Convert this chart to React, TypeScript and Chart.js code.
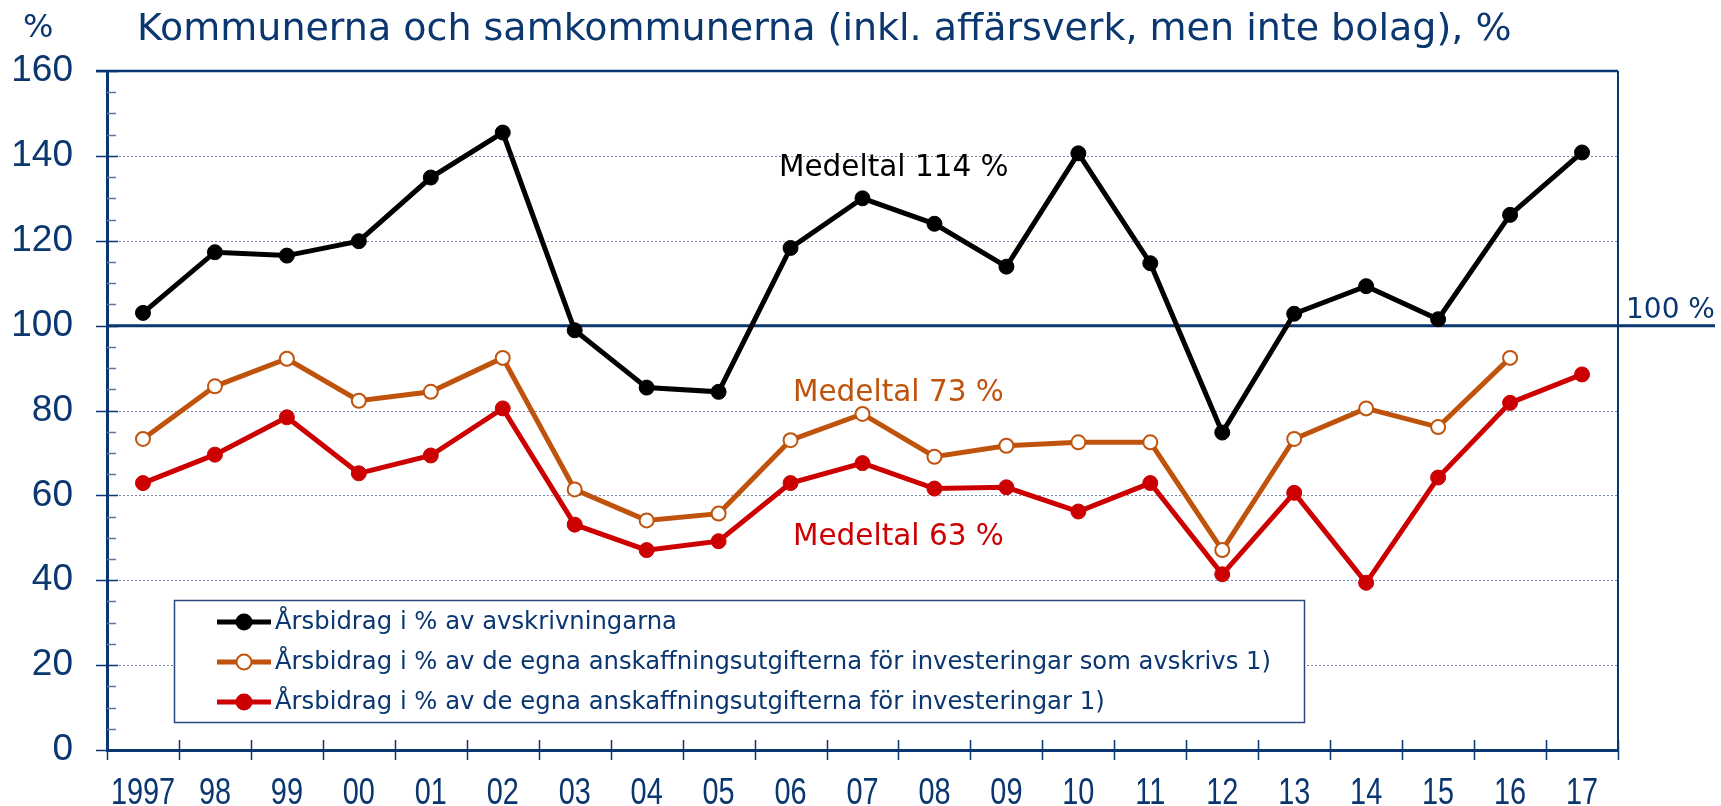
import React, { useEffect, useRef } from "react";
import { Chart, registerables } from "chart.js";

Chart.register(...registerables);

const categories = ["1997", "98", "99", "00", "01", "02", "03", "04", "05", "06", "07", "08", "09", "10", "11", "12", "13", "14", "15", "16", "17"];
const seriesAvskrivningar = [103.0, 117.3, 116.5, 119.9, 134.9, 145.5, 98.9, 85.4, 84.4, 118.3, 130.0, 124.0, 113.9, 140.6, 114.7, 74.8, 102.8, 109.3, 101.5, 126.1, 140.8];
const seriesSomAvskrivs = [73.3, 85.7, 92.2, 82.3, 84.4, 92.4, 61.4, 54.1, 55.7, 73.0, 79.2, 69.1, 71.7, 72.5, 72.5, 47.1, 73.3, 80.5, 76.1, 92.4, null];
const seriesInvesteringar = [62.9, 69.6, 78.4, 65.2, 69.4, 80.5, 53.1, 47.1, 49.2, 62.9, 67.6, 61.6, 61.9, 56.2, 62.9, 41.4, 60.6, 39.4, 64.2, 81.8, 88.5];
const yTicks = [0, 20, 40, 60, 80, 100, 120, 140, 160];
const seriesNames = [
  "Årsbidrag i % av avskrivningarna",
  "Årsbidrag i % av de egna anskaffningsutgifterna för investeringar som avskrivs 1)",
  "Årsbidrag i % av de egna anskaffningsutgifterna för investeringar 1)",
];
const titleText = "Kommunerna och samkommunerna (inkl. affärsverk, men inte bolag), %";
const unitText = "%";
const refLineValue = 100;
const refLineText = "100 %";
const averageTexts = ["Medeltal 114 %", "Medeltal 73 %", "Medeltal 63 %"];

const NAVY = "#0b3770";
const BLACK = "#000000";
const ORANGE = "#c0530c";
const RED = "#cc0000";
const GRID = "#7489ae";
const SANS = "'DejaVu Sans', Verdana, sans-serif";
const ARIAL = "'Liberation Sans', Arial, sans-serif";

const decorPlugin = {
  id: "decor",
  beforeDatasetsDraw(chart: any) {
    const { ctx, chartArea, scales } = chart;
    const x = scales.x;
    const y = scales.y;
    const L = chartArea.left;
    const R = chartArea.right;
    const T = chartArea.top;
    const B = chartArea.bottom;
    ctx.save();
    // dotted grid lines
    ctx.strokeStyle = GRID;
    ctx.lineWidth = 1;
    ctx.setLineDash([2, 2]);
    for (const v of yTicks) {
      if (v === 0 || v === 160 || v === refLineValue) continue;
      const py = Math.round(y.getPixelForValue(v)) + 0.5;
      ctx.beginPath();
      ctx.moveTo(L, py);
      ctx.lineTo(R, py);
      ctx.stroke();
    }
    ctx.setLineDash([]);
    // y minor ticks
    ctx.strokeStyle = "#5b78a3";
    ctx.lineWidth = 1.5;
    for (let v = 5; v < 160; v += 5) {
      if (v % 20 === 0) continue;
      const py = Math.round(y.getPixelForValue(v)) + 0.5;
      ctx.beginPath();
      ctx.moveTo(L, py);
      ctx.lineTo(L + 9, py);
      ctx.stroke();
    }
    // y major ticks
    ctx.strokeStyle = NAVY;
    ctx.lineWidth = 1.5;
    for (const v of yTicks) {
      const py = Math.round(y.getPixelForValue(v)) + 0.5;
      ctx.beginPath();
      ctx.moveTo(L - 11, py);
      ctx.lineTo(L + 11, py);
      ctx.stroke();
    }
    // x ticks at category boundaries
    const n = categories.length;
    const step = x.getPixelForValue(1) - x.getPixelForValue(0);
    for (let i = 0; i <= n; i++) {
      const px = i < n ? x.getPixelForValue(i) - step / 2 : R;
      const rx = Math.round(px) + 0.5;
      ctx.beginPath();
      ctx.moveTo(rx, B - 10);
      ctx.lineTo(rx, B + 10);
      ctx.stroke();
    }
    // top and right border
    ctx.lineWidth = 2.5;
    ctx.beginPath();
    ctx.moveTo(L - 11, T);
    ctx.lineTo(R, T);
    ctx.stroke();
    ctx.lineWidth = 2;
    ctx.beginPath();
    ctx.moveTo(R, T);
    ctx.lineTo(R, B);
    ctx.stroke();
    // 100 % line
    const p100 = y.getPixelForValue(refLineValue);
    ctx.lineWidth = 3;
    ctx.beginPath();
    ctx.moveTo(L, p100);
    ctx.lineTo(1715, p100);
    ctx.stroke();
    ctx.restore();
  },
  afterDraw(chart: any) {
    const { ctx, scales } = chart;
    const x = scales.x;
    const y = scales.y;
    ctx.save();
    // x tick labels (condensed)
    ctx.fillStyle = NAVY;
    ctx.font = `37px ${ARIAL}`;
    ctx.textAlign = "center";
    ctx.textBaseline = "alphabetic";
    categories.forEach((lab, i) => {
      ctx.save();
      ctx.translate(x.getPixelForValue(i), 804);
      ctx.scale(0.78, 1);
      ctx.fillText(lab, 0, 0);
      ctx.restore();
    });
    // title and unit
    ctx.textAlign = "left";
    ctx.textBaseline = "middle";
    ctx.font = `38px ${SANS}`;
    ctx.fillText(titleText, 137, 30);
    ctx.font = `32px ${SANS}`;
    ctx.fillText(unitText, 23, 29);
    // 100 % label
    ctx.font = `28px ${SANS}`;
    ctx.textBaseline = "alphabetic";
    ctx.fillText(refLineText, 1626, y.getPixelForValue(refLineValue) - 8);
    // averages
    ctx.textBaseline = "middle";
    ctx.font = `29.5px ${SANS}`;
    ctx.fillStyle = BLACK;
    ctx.fillText(averageTexts[0], 779, 168);
    ctx.fillStyle = ORANGE;
    ctx.fillText(averageTexts[1], 793, 393);
    ctx.fillStyle = RED;
    ctx.fillText(averageTexts[2], 793, 537);
    // legend
    const bx = 174, by = 600, bw = 1130, bh = 122;
    ctx.fillStyle = "#ffffff";
    ctx.fillRect(bx, by, bw, bh);
    ctx.strokeStyle = "#2a4a7c";
    ctx.lineWidth = 1.5;
    ctx.strokeRect(bx + 0.5, by + 0.5, bw, bh);
    const rows = [622, 662, 702];
    const colors = [BLACK, ORANGE, RED];
    const fills = [BLACK, "#ffffff", RED];
    for (let i = 0; i < 3; i++) {
      const ry = rows[i];
      ctx.strokeStyle = colors[i];
      ctx.lineWidth = 5;
      ctx.beginPath();
      ctx.moveTo(217, ry);
      ctx.lineTo(271, ry);
      ctx.stroke();
      ctx.beginPath();
      ctx.arc(244, ry, 7.5, 0, Math.PI * 2);
      ctx.fillStyle = fills[i];
      ctx.fill();
      ctx.lineWidth = 2;
      ctx.stroke();
      ctx.fillStyle = NAVY;
      ctx.font = `24.3px ${SANS}`;
      ctx.textBaseline = "middle";
      ctx.fillText(seriesNames[i], 275, ry + 1);
    }
    ctx.restore();
  },
};

export default function App() {
  const canvasRef = useRef<HTMLCanvasElement | null>(null);

  useEffect(() => {
    document.body.style.margin = "0";
    const canvas = canvasRef.current;
    if (!canvas) return;
    const chart = new Chart(canvas, {
      type: "line",
      data: {
        labels: categories,
        datasets: [
          {
            label: seriesNames[0],
            data: seriesAvskrivningar,
            borderColor: BLACK,
            backgroundColor: BLACK,
            pointBackgroundColor: BLACK,
            pointBorderColor: BLACK,
            borderWidth: 5,
            pointRadius: 7.5,
            pointBorderWidth: 1,
            tension: 0,
          },
          {
            label: seriesNames[1],
            data: seriesSomAvskrivs,
            borderColor: ORANGE,
            backgroundColor: "#ffffff",
            pointBackgroundColor: "#ffffff",
            pointBorderColor: ORANGE,
            borderWidth: 5,
            pointRadius: 7,
            pointBorderWidth: 2,
            tension: 0,
            spanGaps: false,
          },
          {
            label: seriesNames[2],
            data: seriesInvesteringar,
            borderColor: RED,
            backgroundColor: RED,
            pointBackgroundColor: RED,
            pointBorderColor: RED,
            borderWidth: 5,
            pointRadius: 7.5,
            pointBorderWidth: 1,
            tension: 0,
          },
        ],
      },
      options: {
        responsive: false,
        animation: false,
        events: [],
        layout: { padding: { top: 71, right: 103, left: 0, bottom: 0 } },
        plugins: {
          legend: { display: false },
          tooltip: { enabled: false },
          title: { display: false },
        },
        scales: {
          x: {
            type: "category",
            offset: true,
            grid: { display: false },
            border: { display: true, color: NAVY, width: 3 },
            ticks: { display: false },
            afterFit: (scale: any) => {
              scale.height = 56;
            },
          },
          y: {
            min: 0,
            max: 160,
            grid: { display: false },
            border: { display: true, color: NAVY, width: 3 },
            ticks: {
              stepSize: 20,
              color: NAVY,
              font: { family: ARIAL, size: 37 },
              padding: 26,
            },
            afterFit: (scale: any) => {
              scale.width = 107;
            },
          },
        },
      },
      plugins: [decorPlugin],
    });
    return () => chart.destroy();
  }, []);

  return (
    <div style={{ position: "absolute", left: 0, top: 0, width: 1721, height: 806, background: "#ffffff" }}>
      <canvas ref={canvasRef} width={1721} height={806} />
    </div>
  );
}
